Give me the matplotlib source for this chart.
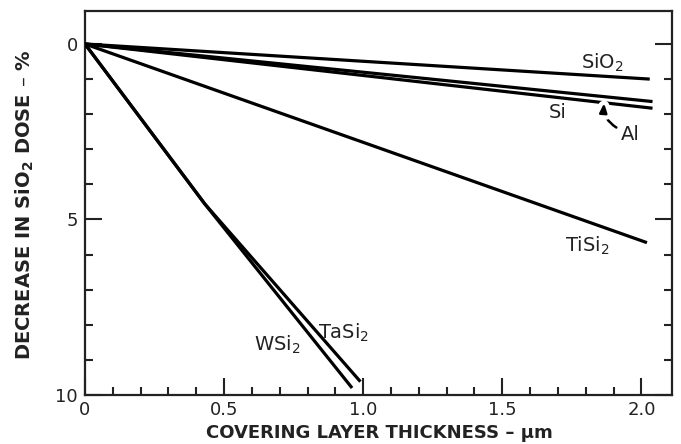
import matplotlib
matplotlib.use("Agg")
import matplotlib.pyplot as plt
import matplotlib.patheffects as pe
from matplotlib.ticker import FixedLocator

# ── data (thickness in um, dose decrease in %) ───────────────────────────────
sio2_x = [0.0, 2.03]
sio2_y = [0.0, 1.00]

al_x = [0.0, 2.04]
al_y = [0.0, 1.64]

si_x = [0.0, 2.04]
si_y = [0.0, 1.83]

tisi2_x = [0.0, 2.02]
tisi2_y = [0.0, 5.66]

wsi2_x = [0.0, 0.43, 0.96]
wsi2_y = [0.0, 4.55, 9.80]

tasi2_x = [0.0, 0.43, 0.99]
tasi2_y = [0.0, 4.55, 9.62]

x_major = [0.0, 0.5, 1.0, 1.5, 2.0]
x_labels = ["0", "0.5", "1.0", "1.5", "2.0"]
x_minor = [0.1, 0.2, 0.3, 0.4, 0.6, 0.7, 0.8, 0.9, 1.1, 1.2, 1.3, 1.4,
           1.6, 1.7, 1.8, 1.9]
y_major = [0, 5, 10]
y_labels = ["0", "5", "10"]
y_minor = [1, 2, 3, 4, 6, 7, 8, 9]

plt.rcParams["font.family"] = ["DejaVu Sans"]

fig = plt.figure(figsize=(6.81, 4.44), dpi=100)
ax = fig.add_axes([85 / 681, 1 - 395 / 444, (672 - 85) / 681, (395 - 11) / 444])

lw = 2.3
ax.plot(sio2_x, sio2_y, color="black", lw=lw, solid_capstyle="butt", zorder=3)
ax.plot(si_x, si_y, color="black", lw=lw, solid_capstyle="butt", zorder=2)
ax.plot(al_x, al_y, color="black", lw=lw, solid_capstyle="butt", zorder=4)
ax.plot(tisi2_x, tisi2_y, color="black", lw=lw, solid_capstyle="butt", zorder=3)
ax.plot(wsi2_x, wsi2_y, color="black", lw=lw, solid_capstyle="butt", zorder=3)
ax.plot(tasi2_x, tasi2_y, color="black", lw=lw, solid_capstyle="butt", zorder=3)

ax.set_xlim(0, 2.11)
ax.set_ylim(10, -0.94)

# ticks: inward, long majors, short minors, none on top
ax.xaxis.set_major_locator(FixedLocator(x_major))
ax.xaxis.set_minor_locator(FixedLocator(x_minor))
ax.set_xticklabels(x_labels)
ax.yaxis.set_major_locator(FixedLocator(y_major))
ax.yaxis.set_minor_locator(FixedLocator(y_minor))
ax.set_yticklabels(y_labels)
ax.tick_params(which="both", direction="in", top=False, right=True,
               width=1.5, color="#222222", labelsize=13, labelcolor="#222222")
ax.tick_params(which="major", length=12, pad=5)
ax.tick_params(which="minor", length=5.5)
ax.tick_params(axis="x", which="major", pad=4)

for sp in ax.spines.values():
    sp.set_linewidth(1.6)
    sp.set_color("#222222")

# ── curve labels ──────────────────────────────────────────────────────────────
lab = dict(fontsize=14, color="#222222", ha="center", va="center")
ax.text(1.86, 0.55, "SiO$_2$", **lab)
ax.text(1.70, 1.94, "Si", **lab)
ax.text(1.96, 2.59, "Al", **lab)
ax.text(1.805, 5.75, "TiSi$_2$", **lab)
ax.text(0.69, 8.58, "WSi$_2$", **lab)
ax.text(0.93, 8.23, "TaSi$_2$", **lab)

# Al pointer; white halo breaks the Si line where it passes
arr = ax.annotate("", xy=(1.866, 1.68), xytext=(1.91, 2.38),
                  arrowprops=dict(arrowstyle="-|>,head_length=0.55,head_width=0.22",
                                  color="black", lw=1.8, shrinkA=0, shrinkB=0,
                                  connectionstyle="arc3,rad=-0.3"),
                  zorder=3)
arr.arrow_patch.set_path_effects([pe.Stroke(linewidth=8, foreground="white"),
                                  pe.Normal()])

# ── axis titles ───────────────────────────────────────────────────────────────
fig.text(25 / 681, 1 - 205 / 444, "DECREASE IN SiO$_\\mathbf{2}$ DOSE \u2013 %",
         rotation=90, ha="center", va="center", fontsize=14,
         fontweight="bold", color="#222222")
fig.text(379 / 681, 1 - 433 / 444, "COVERING LAYER THICKNESS \u2013 \u00b5m",
         ha="center", va="center", fontsize=13, fontweight="bold",
         color="#222222")

fig.savefig("out.png", dpi=100)
